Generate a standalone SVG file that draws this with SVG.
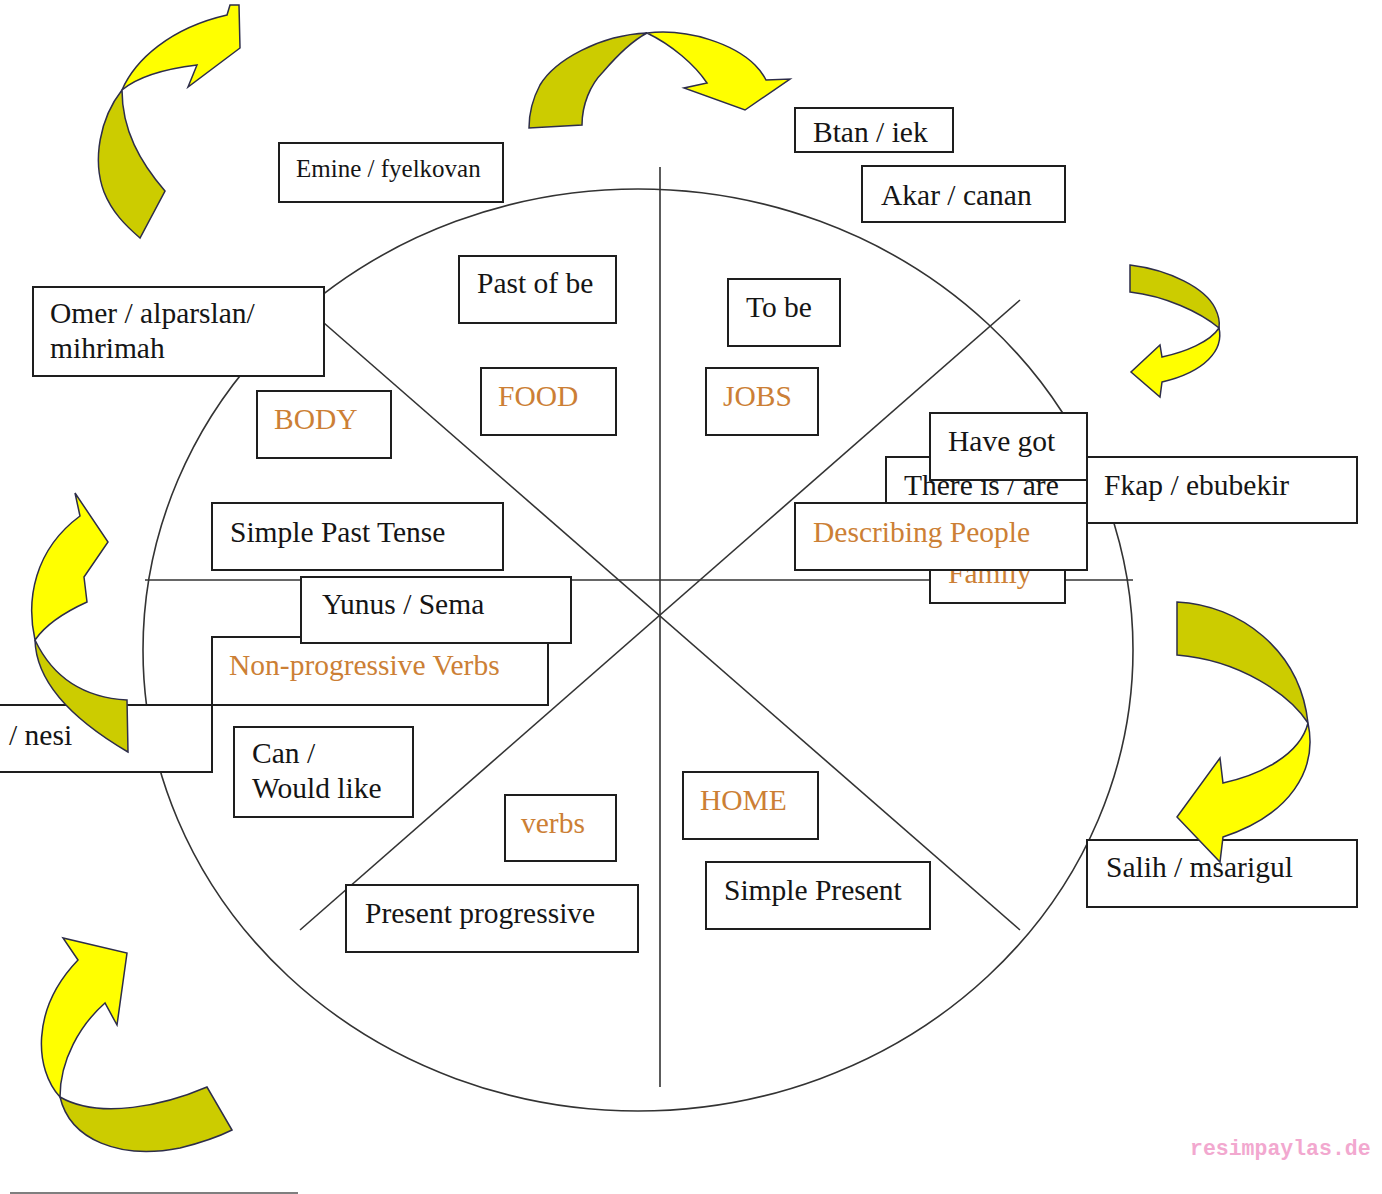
<svg xmlns="http://www.w3.org/2000/svg" width="1382" height="1194" viewBox="0 0 1382 1194">
<style>
.box{fill:#fff;stroke:#1e1e1e;stroke-width:2}
.t{font-family:"Liberation Serif","Times New Roman",serif;font-size:29.5px;fill:#151515}
.o{fill:#cc7f35}
.ln{stroke:#333;stroke-width:1.6;fill:none}
.yl{fill:#ffff00;stroke:#2d2d4a;stroke-width:1.5;stroke-linejoin:miter}
.ol{fill:#cccc00;stroke:#2d2d4a;stroke-width:1.5;stroke-linejoin:miter}
</style>
<rect width="1382" height="1194" fill="#fff"/>
<g id="connectors">
<ellipse class="ln" cx="638" cy="650" rx="495" ry="461"/>
<line class="ln" x1="660" y1="167" x2="660" y2="1087"/>
<line class="ln" x1="145" y1="580" x2="1133" y2="580"/>
<line class="ln" x1="324" y1="323" x2="1020" y2="930"/>
<line class="ln" x1="1020" y1="300" x2="300" y2="930"/>
<line x1="10" y1="1193" x2="298" y2="1193" stroke="#555" stroke-width="1.5"/>
</g>
<g id="n-emine"><rect class="box" x="279" y="143" width="224" height="59"/><text class="t" x="296" y="177" style="font-size:25px">Emine / fyelkovan</text></g>
<g id="n-btan"><rect class="box" x="795" y="108" width="158" height="44"/><text class="t" x="813" y="142">Btan / iek</text></g>
<g id="n-akar"><rect class="box" x="862" y="166" width="203" height="56"/><text class="t" x="881" y="205">Akar / canan</text></g>
<g id="n-pastofbe"><rect class="box" x="459" y="256" width="157" height="67"/><text class="t" x="477" y="293">Past of be</text></g>
<g id="n-tobe"><rect class="box" x="728" y="279" width="112" height="67"/><text class="t" x="746" y="317">To be</text></g>
<g id="n-omer"><rect class="box" x="33" y="287" width="291" height="89"/><text class="t" x="50" y="323">Omer / alparslan/</text><text class="t" x="50" y="358">mihrimah</text></g>
<g id="n-food"><rect class="box" x="481" y="368" width="135" height="67"/><text class="t o" x="498" y="406">FOOD</text></g>
<g id="n-jobs"><rect class="box" x="706" y="368" width="112" height="67"/><text class="t o" x="723" y="406">JOBS</text></g>
<g id="n-body"><rect class="box" x="257" y="391" width="134" height="67"/><text class="t o" x="274" y="429">BODY</text></g>
<g id="n-thereis"><rect class="box" x="886" y="457" width="201" height="80"/><text class="t" x="904" y="495">There is / are</text></g>
<g id="n-family"><rect class="box" x="930" y="540" width="135" height="63"/><text class="t o" x="948" y="583">Family</text></g>
<g id="n-havegot"><rect class="box" x="930" y="413" width="157" height="67"/><text class="t" x="948" y="451">Have got</text></g>
<g id="n-describing"><rect class="box" x="795" y="503" width="292" height="67"/><text class="t o" x="813" y="542">Describing People</text></g>
<g id="n-fkap"><rect class="box" x="1087" y="457" width="270" height="66"/><text class="t" x="1104" y="495">Fkap / ebubekir</text></g>
<g id="n-simplepast"><rect class="box" x="212" y="503" width="291" height="67"/><text class="t" x="230" y="542">Simple Past Tense</text></g>
<g id="n-nonprog"><rect class="box" x="212" y="637" width="336" height="68"/><text class="t o" x="229" y="675">Non-progressive Verbs</text></g>
<g id="n-yunus"><rect class="box" x="301" y="577" width="270" height="66"/><text class="t" x="322" y="614">Yunus / Sema</text></g>
<g id="n-nesi"><rect class="box" x="-5" y="705" width="217" height="67"/><text class="t" x="9" y="745">/ nesi</text></g>
<g id="n-can"><rect class="box" x="234" y="727" width="179" height="90"/><text class="t" x="252" y="763">Can /</text><text class="t" x="252" y="798">Would like</text></g>
<g id="n-verbs"><rect class="box" x="505" y="795" width="111" height="66"/><text class="t o" x="521" y="833">verbs</text></g>
<g id="n-home"><rect class="box" x="683" y="772" width="135" height="67"/><text class="t o" x="700" y="810">HOME</text></g>
<g id="n-simplepresent"><rect class="box" x="706" y="862" width="224" height="67"/><text class="t" x="724" y="900">Simple Present</text></g>
<g id="n-presentprog"><rect class="box" x="346" y="885" width="292" height="67"/><text class="t" x="365" y="923">Present progressive</text></g>
<g id="n-salih"><rect class="box" x="1087" y="840" width="270" height="67"/><text class="t" x="1106" y="877">Salih / msarigul</text></g>
<g id="arrow-topleft">
<path class="ol" d="M122,90 C100,118 92,160 104,192 C112,212 125,225 140,238 L165,191 C140,162 122,130 122,90 Z"/>
<path class="yl" d="M122,90 C135,60 170,28 227,15 L230,5 L239,5 L240,48 L188,87 L197,65 C172,68 140,75 122,90 Z"/>
</g>
<g id="arrow-top">
<path class="ol" d="M647,33 C600,35 555,60 540,85 C532,100 529,115 529,128 L582,125 C582,105 590,85 603,72 C615,58 630,42 647,33 Z"/>
<path class="yl" d="M647,33 C690,28 735,45 755,65 C762,72 765,78 766,80 L790,79 L745,110 L684,88 L707,83 C695,65 672,45 647,33 Z"/>
</g>
<g id="arrow-right">
<path class="ol" d="M1130,265 C1170,270 1205,288 1215,308 C1219,316 1220,322 1219,328 C1200,312 1165,296 1130,292 Z"/>
<path class="yl" d="M1219,328 C1224,350 1205,372 1162,382 L1160,397 L1131,372 L1160,345 L1162,357 C1185,352 1210,342 1219,328 Z"/>
</g>
<g id="arrow-left">
<path class="ol" d="M35,640 C36,680 70,718 128,752 L127,700 C90,698 55,682 35,640 Z"/>
<path class="yl" d="M35,640 C26,600 34,550 80,516 L75,493 L108,542 L84,577 L87,602 C65,612 46,624 35,640 Z"/>
</g>
<g id="arrow-rightlow">
<path class="ol" d="M1177,602 C1240,605 1300,650 1308,723 C1290,695 1240,660 1177,655 Z"/>
<path class="yl" d="M1308,723 C1318,770 1290,815 1223,837 L1220,862 L1177,817 L1220,758 L1223,783 C1260,775 1300,755 1308,723 Z"/>
</g>
<g id="arrow-bottomleft">
<path class="ol" d="M60,1097 C70,1140 120,1160 180,1148 C200,1143 218,1137 232,1130 L207,1087 C165,1105 100,1120 60,1097 Z"/>
<path class="yl" d="M60,1097 C35,1070 30,1010 78,960 L63,938 L127,953 L117,1025 L105,1003 C80,1025 60,1060 60,1097 Z"/>
</g>
<text x="1190" y="1155" style="font-family:'Liberation Mono','Courier New',monospace;font-size:21.5px;font-weight:bold;fill:#f2a8cf">resimpaylas.de</text>
</svg>
